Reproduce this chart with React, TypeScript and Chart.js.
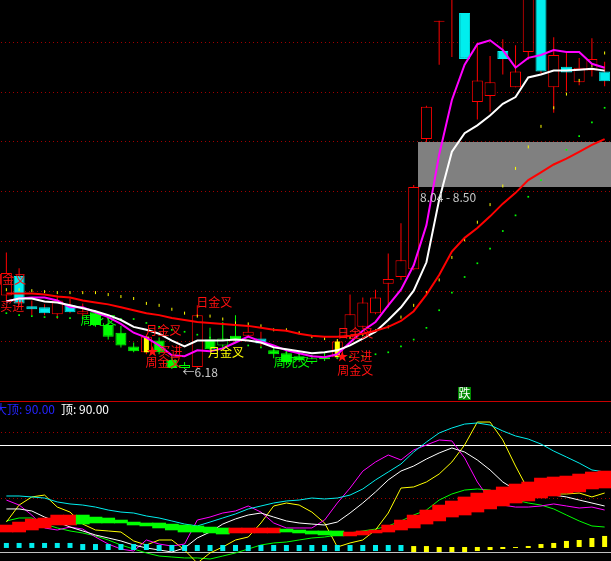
import { useEffect, useRef } from "react";
import { Chart, registerables } from "chart.js";

Chart.register(...registerables);

// ---------- upper panel data (prices) ----------
const OPEN = [6.93,7.13,6.82,6.81,6.74,6.83,6.74,6.76,6.63,6.55,6.41,6.35,6.47,6.27,6.22,6.20,6.48,6.49,6.52,6.52,6.49,6.37,6.34,6.31,6.29,6.30,6.30,6.51,6.61,6.75,7.05,7.12,7.20,8.53,9.73,10.00,9.82,8.91,8.97,9.43,9.06,9.42,10.05,9.06,9.27,9.11,9.23,9.22];
const HIGH = [7.37,7.21,6.88,6.84,6.93,6.90,6.85,6.78,6.70,6.62,6.45,6.53,6.50,6.31,6.25,6.83,6.60,6.66,6.73,6.63,6.56,6.41,6.37,6.35,6.32,6.35,6.48,6.94,6.91,6.99,7.36,7.67,8.06,8.87,9.74,10.15,9.82,9.51,9.38,9.55,9.49,10.10,10.10,9.57,9.41,9.36,9.56,9.32];
const LOW = [6.88,6.83,6.73,6.73,6.69,6.75,6.72,6.61,6.48,6.40,6.35,6.33,6.33,6.18,6.18,6.19,6.37,6.39,6.45,6.50,6.41,6.29,6.22,6.25,6.23,6.26,6.28,6.50,6.60,6.74,6.81,7.09,7.19,8.50,9.29,9.37,9.35,8.73,8.81,9.19,9.06,9.34,9.20,8.80,9.02,9.08,9.17,9.07];
const CLOSE = [7.16,6.85,6.79,6.75,6.88,6.76,6.77,6.63,6.51,6.42,6.36,6.51,6.35,6.19,6.19,6.73,6.38,6.42,6.47,6.56,6.44,6.33,6.25,6.27,6.25,6.28,6.46,6.74,6.86,6.91,7.10,7.29,8.04,8.86,9.74,10.10,9.35,9.13,9.11,9.35,9.22,10.05,9.22,9.39,9.21,9.26,9.35,9.12];
// r = red hollow, c = cyan, g = green, gh = green hollow
const KIND = ["r","c","c","c","r","c","r","g","g","g","g","r","g","g","gh","r","g","gh","g","r","c","g","g","g","gh","g","r","r","r","r","r","r","r","r","r","r","c","r","r","c","r","r","c","r","c","r","r","c"];
const SIGNAL_DAYS = [11, 26];

const MA_RED = [6.95,6.95,6.95,6.94,6.92,6.91,6.88,6.86,6.84,6.81,6.78,6.75,6.73,6.70,6.68,6.66,6.65,6.64,6.63,6.62,6.60,6.58,6.57,6.54,6.52,6.51,6.51,6.52,6.54,6.57,6.61,6.67,6.77,6.94,7.14,7.38,7.52,7.62,7.74,7.87,7.98,8.11,8.19,8.27,8.33,8.40,8.47,8.53];
const MA_WHITE = [6.87,6.90,6.90,6.87,6.86,6.83,6.80,6.77,6.73,6.68,6.61,6.58,6.54,6.47,6.41,6.47,6.47,6.47,6.48,6.47,6.45,6.40,6.38,6.36,6.34,6.35,6.37,6.42,6.49,6.56,6.68,6.81,6.98,7.27,7.91,8.40,8.59,8.67,8.77,8.89,8.96,9.16,9.19,9.23,9.23,9.24,9.25,9.23];
const MA_MAGENTA = [6.87,6.90,6.91,6.91,6.88,6.81,6.81,6.76,6.71,6.64,6.55,6.50,6.42,6.32,6.31,6.37,6.36,6.39,6.45,6.51,6.46,6.42,6.37,6.34,6.31,6.30,6.33,6.45,6.57,6.66,6.83,6.99,7.24,7.65,8.37,8.93,9.29,9.50,9.54,9.44,9.26,9.36,9.39,9.44,9.42,9.42,9.30,9.26];
const YELLOW_DOTS = [6.99,6.99,6.98,6.97,6.96,6.96,6.96,6.96,6.94,6.92,6.90,6.85,6.83,6.79,6.75,6.72,6.72,6.69,6.65,6.64,6.62,6.58,6.58,6.55,6.51,6.49,6.47,6.50,6.53,6.57,6.61,6.71,6.83,6.96,7.09,7.32,7.50,7.68,7.86,8.05,8.23,8.45,8.66,8.85,8.99,9.13,9.28,9.41];
const GREEN_DOTS = [6.75,6.73,6.72,6.71,6.71,6.70,6.70,6.70,6.70,6.69,6.69,6.65,6.61,6.58,6.56,6.53,6.50,6.48,6.46,6.42,6.40,6.37,6.35,6.33,6.31,6.30,6.29,6.30,6.31,6.33,6.35,6.41,6.48,6.60,6.78,6.96,7.12,7.26,7.41,7.59,7.75,7.94,8.11,8.27,8.42,8.56,8.70,8.85];

const PRICE_MIN = 5.852;
const PRICE_MAX = 9.952;
const GRID_PRICES = [9.52, 9.01, 8.51, 8.0, 7.49, 6.98, 6.47];
const ZONE_LOW = 8.04;
const ZONE_HIGH = 8.5;
const ZONE_FROM_DAY = 32;
const LOW_MARK_DAY = 14;
const FALL_DAY = 36;

const LABEL_TEXT = ["周金叉", "★买进", "周死叉", "月金叉", "★买进", "周金叉", "日金叉", "月金叉", "周死叉", "日金叉", "★买进", "周金叉"];
const LABEL_DAY = [0, 0, 7, 11, 11, 11, 15, 16, 21, 26, 26, 26];
const LABEL_PRICE = [7.09, 6.82, 6.68, 6.57, 6.36, 6.25, 6.86, 6.35, 6.25, 6.54, 6.31, 6.16];
const LABEL_TONE = ["r", "r", "g", "r", "r", "r", "r", "y", "g", "r", "r", "r"];

// ---------- lower panel data ----------
const CYAN_LINE = [47.1,47.1,46.3,45.4,42.1,40.4,39.5,37.8,35.3,33.6,32.8,30.3,28.6,26.1,23.5,21.9,25.2,28.6,32.0,36.2,38.7,41.2,42.9,43.7,45.4,44.6,45.4,47.9,53.0,60.6,67.3,74.0,84.1,92.5,100.1,104.3,107.6,108.5,106.8,101.8,97.6,95.0,90.8,84.9,79.9,74.8,69.0,67.3];
const WHITE_LINE = [36.2,36.2,34.5,29.4,25.2,21.0,17.7,14.3,11.8,9.3,5.9,3.4,1.7,0,3.4,11.8,16.8,23.5,27.8,31.1,32.8,29.4,26.1,24.4,23.5,22.7,25.2,32.8,41.2,50.5,60.6,68.1,72.3,78.2,83.3,87.5,84.1,77.4,69.0,58.9,52.1,49.6,48.8,47.9,46.3,43.7,41.2,38.7];
const MAGENTA_LINE = [43.7,39.5,31.1,20.2,18.5,21.0,19.3,12.6,6.7,2.5,0.8,10.1,6.7,5.0,6.7,26.9,29.4,32.8,34.5,38.7,33.6,24.4,20.2,20.2,20.2,26.9,41.2,53.8,68.0,75.7,81.6,77.4,85.8,90.0,94.2,93.4,79.1,58.9,43.7,39.5,37.8,37.8,38.7,40.4,38.7,37.0,37.8,35.3];
const YELLOW_LINE = [25.2,39.5,46.3,47.9,37.8,33.6,23.5,18.5,17.7,16.8,9.3,5.9,10.1,10.1,1.7,-9.3,-0.8,4.2,10.1,12.6,24.4,38.7,41.2,39.5,33.6,24.4,4.2,7.6,10.1,18.5,32.8,53.8,54.7,58.9,65.6,75.7,90.0,109.3,109.3,94.2,72.3,52.1,49.6,48.8,48.8,49.6,46.3,49.6];
const GREEN_LINE = [26.1,28.6,28.6,23.5,20.2,17.7,16.0,13.5,10.1,5.9,2.5,-0.8,-3.4,-4.2,-5.0,-5.0,-5.9,-3.4,-0.8,2.5,5.9,7.6,8.4,10.1,11.8,12.6,14.3,16.0,17.7,19.3,21.9,26.1,31.1,35.3,43.7,48.8,52.1,53.0,52.1,48.8,43.7,41.2,39.5,36.2,31.1,26.1,21.9,21.0];
const BAND_TOP = [22.7,25.2,27.8,28.6,31.1,31.1,31.1,29.4,28.6,26.9,25.2,24.4,24.4,23.5,22.7,21.9,21.0,20.2,20.2,20.2,20.2,20.2,19.3,18.5,17.7,17.7,17.7,16.8,17.7,18.5,22.7,26.9,31.1,35.3,39.5,42.9,46.3,49.6,52.1,54.7,57.2,58.9,62.2,63.1,63.9,65.6,67.3,68.1];
const BAND_BOTTOM = [16.8,16.8,18.5,20.2,22.7,22.7,23.5,24.4,24.4,24.4,22.7,21.9,20.2,18.5,16.8,16.8,16.0,15.1,16.0,16.0,16.0,16.0,16.8,16.0,15.1,14.3,13.5,13.5,14.3,16.0,16.8,18.5,20.2,23.5,26.1,29.4,31.1,33.6,36.2,38.7,41.2,42.9,45.4,47.1,49.6,50.5,53.0,53.8];
const BAND_UP = [1,1,1,1,1,1,0,0,0,0,0,0,0,0,0,0,0,0,1,1,1,1,0,0,0,0,0,1,1,1,1,1,1,1,1,1,1,1,1,1,1,1,1,1,1,1,1,1];
const SQ_TOP = [7.6,7.6,7.6,7.6,7.6,7.6,6.7,6.7,6.7,6.7,6.7,6.7,5.9,5.9,5.9,5.9,5.9,5.9,5.9,5.9,5.9,5.9,5.9,5.9,5.9,5.9,5.9,5.9,5.9,5.9,5.9,5.9,5.0,5.0,4.2,4.2,4.2,4.2,4.2,4.2,4.2,5.0,6.7,7.6,9.3,10.1,11.8,13.5];
const SQ_BOTTOM = [3.4,3.4,3.4,3.4,3.4,3.4,1.7,1.7,1.7,1.7,1.7,1.7,0.8,0.8,0.8,0.8,0.8,0.8,0.8,0.8,0.8,0.8,0.8,0.8,0.8,0.8,0.8,0.8,0.8,0.8,0.8,0.8,0,0,0,0,0,0.8,1.7,2.5,3.4,3.4,3.4,3.4,3.4,4.2,4.2,4.2];
const SQ_WARM = [0,0,0,0,0,0,0,0,0,0,0,0,0,0,0,0,0,0,0,0,0,0,0,0,0,0,0,0,0,0,0,0,1,1,1,1,1,1,1,1,1,1,1,1,1,1,1,1];
const IND_MIN = -7.57;
const IND_MAX = 127.0;
const IND_TOP_LINE = 90;
const IND_DOTTED = [100.9, 45.4];
const IND_ZERO = 0;
const TOP_VALUE = "90.00";

const DAYS = OPEN.map((_, i) => String(i + 1));

// ---------- styles ----------
const RED = "#ff0000";
const CYAN = "#00eeee";
const GREEN = "#00ff00";
const YELLOW = "#ffff00";
const MAGENTA = "#ff00ff";
const WHITE = "#ffffff";
const GRID_RED = "#a00000";
const FONT = '12px "Noto Sans CJK SC", "Noto Sans", sans-serif';
const TONE: Record<string, string> = { r: "#ff1010", g: GREEN, y: YELLOW };
const LABEL_DX = [-16, -18, -15, -1, 0, -1, -1, -2, 0, 0, -1, 0];

function dottedRow(ctx: CanvasRenderingContext2D, row: number, w: number, color: string) {
  ctx.fillStyle = color;
  for (let px = 1; px < w; px += 4) ctx.fillRect(px, row, 1, 1);
}

function drawLabels(chart: any, under: boolean) {
  const { ctx, scales } = chart;
  ctx.save();
  ctx.font = FONT;
  ctx.textBaseline = "middle";
  ctx.textAlign = "left";
  LABEL_TEXT.forEach((t, i) => {
    const isUnder = LABEL_TONE[i] === "g";
    if (isUnder !== under) return;
    ctx.fillStyle = TONE[LABEL_TONE[i]];
    const x = scales.x.getPixelForValue(LABEL_DAY[i]) + LABEL_DX[i];
    const y = scales.y.getPixelForValue(LABEL_PRICE[i]);
    ctx.fillText(t, x, y);
  });
  ctx.restore();
}

const upperDecor = {
  id: "upperDecor",
  beforeDatasetsDraw(chart: any) {
    const { ctx, chartArea: a, scales } = chart;
    ctx.save();
    GRID_PRICES.forEach((p) => dottedRow(ctx, Math.round(scales.y.getPixelForValue(p)), a.right, GRID_RED));
    const x0 = Math.round(scales.x.getPixelForValue(ZONE_FROM_DAY) + 4);
    const yt = Math.round(scales.y.getPixelForValue(ZONE_HIGH));
    const yb = Math.round(scales.y.getPixelForValue(ZONE_LOW));
    ctx.fillStyle = "#808080";
    ctx.fillRect(x0, yt, a.right - x0, yb - yt);
    ctx.restore();
    drawLabels(chart, true);
  },
  afterDatasetsDraw(chart: any) {
    const { ctx, chartArea: a, scales } = chart;
    drawLabels(chart, false);
    ctx.save();
    ctx.font = FONT;
    ctx.textBaseline = "middle";
    ctx.textAlign = "left";
    const x0 = Math.round(scales.x.getPixelForValue(ZONE_FROM_DAY) + 4);
    ctx.fillStyle = "#c8c8c8";
    ctx.fillText(`${ZONE_LOW.toFixed(2)} - ${ZONE_HIGH.toFixed(2)}`, x0 + 2, scales.y.getPixelForValue(ZONE_LOW) + 10);
    ctx.fillText(`←${LOW[LOW_MARK_DAY].toFixed(2)}`, scales.x.getPixelForValue(LOW_MARK_DAY) - 2, scales.y.getPixelForValue(LOW[LOW_MARK_DAY]) + 4);
    const fx = Math.round(scales.x.getPixelForValue(FALL_DAY) - 6.5);
    ctx.fillStyle = "#008a00";
    ctx.fillRect(fx, a.bottom - 14, 13, 13);
    ctx.fillStyle = WHITE;
    ctx.textAlign = "center";
    ctx.fillText("跌", fx + 6.5, a.bottom - 7.5);
    ctx.restore();
  },
};

const lowerDecor = {
  id: "lowerDecor",
  beforeDatasetsDraw(chart: any) {
    const { ctx, chartArea: a, scales } = chart;
    ctx.save();
    ctx.fillStyle = "#c80000";
    ctx.fillRect(0, a.top, a.right, 1);
    IND_DOTTED.forEach((v) => dottedRow(ctx, Math.round(scales.y.getPixelForValue(v)), a.right, GRID_RED));
    ctx.fillStyle = WHITE;
    ctx.fillRect(0, Math.round(scales.y.getPixelForValue(IND_TOP_LINE)), a.right, 1);
    ctx.fillStyle = "#c0c0c0";
    ctx.fillRect(0, Math.round(scales.y.getPixelForValue(IND_ZERO)), a.right, 1);
    ctx.restore();
  },
  afterDatasetsDraw(chart: any) {
    const { ctx, chartArea: a } = chart;
    ctx.save();
    ctx.font = FONT;
    ctx.textBaseline = "middle";
    ctx.textAlign = "left";
    ctx.fillStyle = "#2424ff";
    ctx.fillText(`大顶: ${TOP_VALUE}`, -5, a.top + 8);
    ctx.fillStyle = WHITE;
    ctx.fillText(`顶: ${TOP_VALUE}`, 61, a.top + 8);
    ctx.restore();
  },
};

function lineDs(data: number[], color: string, width: number, order: number) {
  return {
    type: "line" as const,
    data,
    borderColor: color,
    borderWidth: width,
    pointRadius: 0,
    tension: 0,
    order,
  };
}

const baseOptions = (min: number, max: number) => ({
  responsive: false,
  maintainAspectRatio: false,
  animation: false,
  devicePixelRatio: 1,
  events: [],
  layout: { padding: 0, autoPadding: false },
  plugins: { legend: { display: false }, tooltip: { enabled: false } },
  scales: {
    x: { display: false, offset: true },
    y: { display: false, min, max },
  },
});

function upperConfig(): any {
  const isGreen = (k: string) => k === "g" || k === "gh";
  return {
    type: "bar",
    data: {
      labels: DAYS,
      datasets: [
        lineDs(MA_RED, RED, 2, 0),
        lineDs(MA_WHITE, WHITE, 2, 0),
        lineDs(MA_MAGENTA, MAGENTA, 2, 0),
        {
          type: "line",
          data: YELLOW_DOTS,
          showLine: false,
          pointStyle: "line",
          pointRotation: 90,
          pointRadius: 1.5,
          pointBorderWidth: 1,
          pointBorderColor: YELLOW,
          order: 0,
        },
        {
          type: "line",
          data: GREEN_DOTS,
          showLine: false,
          pointStyle: "rect",
          pointRadius: 1.2,
          pointBorderWidth: 0,
          pointBackgroundColor: GREEN,
          order: 0,
        },
        {
          type: "bar",
          data: OPEN.map((o, i) => (SIGNAL_DAYS.includes(i) ? [Math.min(o, CLOSE[i]), Math.max(o, CLOSE[i])] : null)),
          backgroundColor: YELLOW,
          barThickness: 5,
          grouped: false,
          inflateAmount: 0,
          order: 1,
        },
        {
          type: "bar",
          data: OPEN.map((o, i) => [Math.min(o, CLOSE[i]), Math.max(o, CLOSE[i])]),
          backgroundColor: KIND.map((k) => (k === "c" ? CYAN : k === "g" ? GREEN : "#000000")),
          borderColor: KIND.map((k) => (k === "c" ? CYAN : isGreen(k) ? GREEN : RED)),
          borderWidth: 1,
          borderSkipped: false,
          barThickness: 11,
          grouped: false,
          inflateAmount: 0,
          order: 2,
        },
        {
          type: "bar",
          data: LOW.map((l, i) => [l, HIGH[i]]),
          backgroundColor: KIND.map((k) => (isGreen(k) ? GREEN : RED)),
          borderWidth: 0,
          barThickness: 1,
          grouped: false,
          inflateAmount: 0,
          order: 3,
        },
      ],
    },
    options: baseOptions(PRICE_MIN, PRICE_MAX),
    plugins: [upperDecor],
  };
}

function lowerConfig(): any {
  return {
    type: "bar",
    data: {
      labels: DAYS,
      datasets: [
        {
          type: "bar",
          data: BAND_BOTTOM.map((b, i) => [b, BAND_TOP[i]]),
          backgroundColor: BAND_UP.map((u) => (u ? RED : GREEN)),
          borderWidth: 0,
          barThickness: 13.2,
          grouped: false,
          inflateAmount: 0.3,
          order: 0,
        },
        {
          type: "bar",
          data: SQ_BOTTOM.map((b, i) => [b, SQ_TOP[i]]),
          backgroundColor: SQ_WARM.map((w) => (w ? YELLOW : CYAN)),
          borderWidth: 0,
          barThickness: 5,
          grouped: false,
          inflateAmount: 0,
          order: 0,
        },
        lineDs(CYAN_LINE, CYAN, 1, 1),
        lineDs(WHITE_LINE, WHITE, 1, 1),
        lineDs(MAGENTA_LINE, MAGENTA, 1, 1),
        lineDs(YELLOW_LINE, YELLOW, 1, 1),
        lineDs(GREEN_LINE, GREEN, 1, 1),
      ],
    },
    options: baseOptions(IND_MIN, IND_MAX),
    plugins: [lowerDecor],
  };
}

export default function App() {
  const topRef = useRef<HTMLCanvasElement>(null);
  const botRef = useRef<HTMLCanvasElement>(null);
  useEffect(() => {
    const top = new Chart(topRef.current as HTMLCanvasElement, upperConfig());
    const bot = new Chart(botRef.current as HTMLCanvasElement, lowerConfig());
    return () => {
      top.destroy();
      bot.destroy();
    };
  }, []);
  return (
    <div style={{ position: "fixed", left: 0, top: 0, width: 611, height: 561, background: "#000", overflow: "hidden" }}>
      <canvas ref={topRef} width={611} height={401} style={{ display: "block", width: 611, height: 401 }} />
      <canvas ref={botRef} width={611} height={160} style={{ display: "block", width: 611, height: 160 }} />
    </div>
  );
}
